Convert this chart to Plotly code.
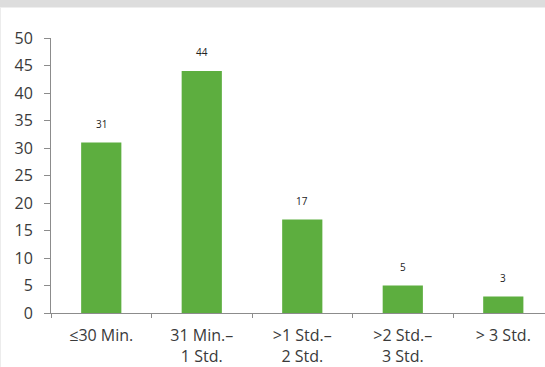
import plotly.graph_objects as go

# Distribution of durations (percent of cases)
categories = ["≤30 Min.", "31 Min.–<br>1 Std.", ">1 Std.–<br>2 Std.", ">2 Std.–<br>3 Std.", "> 3 Std."]
values = [31, 44, 17, 5, 3]
y_ticks = [0, 5, 10, 15, 20, 25, 30, 35, 40, 45, 50]

GREEN = "#5dae3f"
AXIS = "#8c8c8c"
TEXT = "#3a3a3a"
FONT = "Open Sans, Noto Sans, sans-serif"

fig = go.Figure()
fig.add_trace(go.Bar(
    x=categories,
    y=values,
    width=0.4,
    marker=dict(color=GREEN, line=dict(width=0)),
    hoverinfo="skip",
))

# value labels above each bar
for c, v in zip(categories, values):
    fig.add_annotation(
        x=c, y=v, text=str(v), showarrow=False,
        yanchor="middle", yshift=19,
        font=dict(family=FONT, size=10, color="#222222"),
    )

W, H = 545, 367
L, R, T, B = 51, 0, 37.6, 54
plot_w = W - L - R
plot_h = H - T - B

# grey band along the top edge and a faint frame line on the left
fig.add_shape(type="rect", xref="paper", yref="paper",
              x0=-L / plot_w, x1=1.05,
              y0=(H - B - 7) / plot_h, y1=(H - B + 5) / plot_h,
              fillcolor="#dddddd", line=dict(width=0), layer="below")
fig.add_shape(type="line", xref="paper", yref="paper",
              x0=-L / plot_w + 0.5 / plot_w, x1=-L / plot_w + 0.5 / plot_w,
              y0=0 - B / plot_h, y1=(H - B - 7) / plot_h,
              line=dict(color="#ececec", width=1))

fig.update_layout(
    width=W, height=H,
    margin=dict(l=L, r=R, t=T, b=B, pad=0, autoexpand=False),
    paper_bgcolor="white",
    plot_bgcolor="white",
    showlegend=False,
    font=dict(family=FONT, color=TEXT),
    bargap=0.6,
)

fig.update_xaxes(
    type="category",
    range=[-0.5, 4.415],
    automargin=False,
    showline=True, linecolor=AXIS, linewidth=1,
    ticks="outside", ticklen=4, tickcolor=AXIS, tickwidth=1,
    tickson="boundaries",
    showgrid=False, zeroline=False,
    tickfont=dict(family=FONT, size=16, color=TEXT),
    ticklabelstandoff=8,
)
fig.update_yaxes(
    range=[0, 50],
    tickvals=y_ticks,
    automargin=False,
    showline=True, linecolor=AXIS, linewidth=1,
    ticks="outside", ticklen=6, tickcolor=AXIS, tickwidth=1,
    showgrid=False, zeroline=False,
    tickfont=dict(family=FONT, size=16, color=TEXT),
    ticklabelstandoff=8,
)

fig.write_html("out.html")
